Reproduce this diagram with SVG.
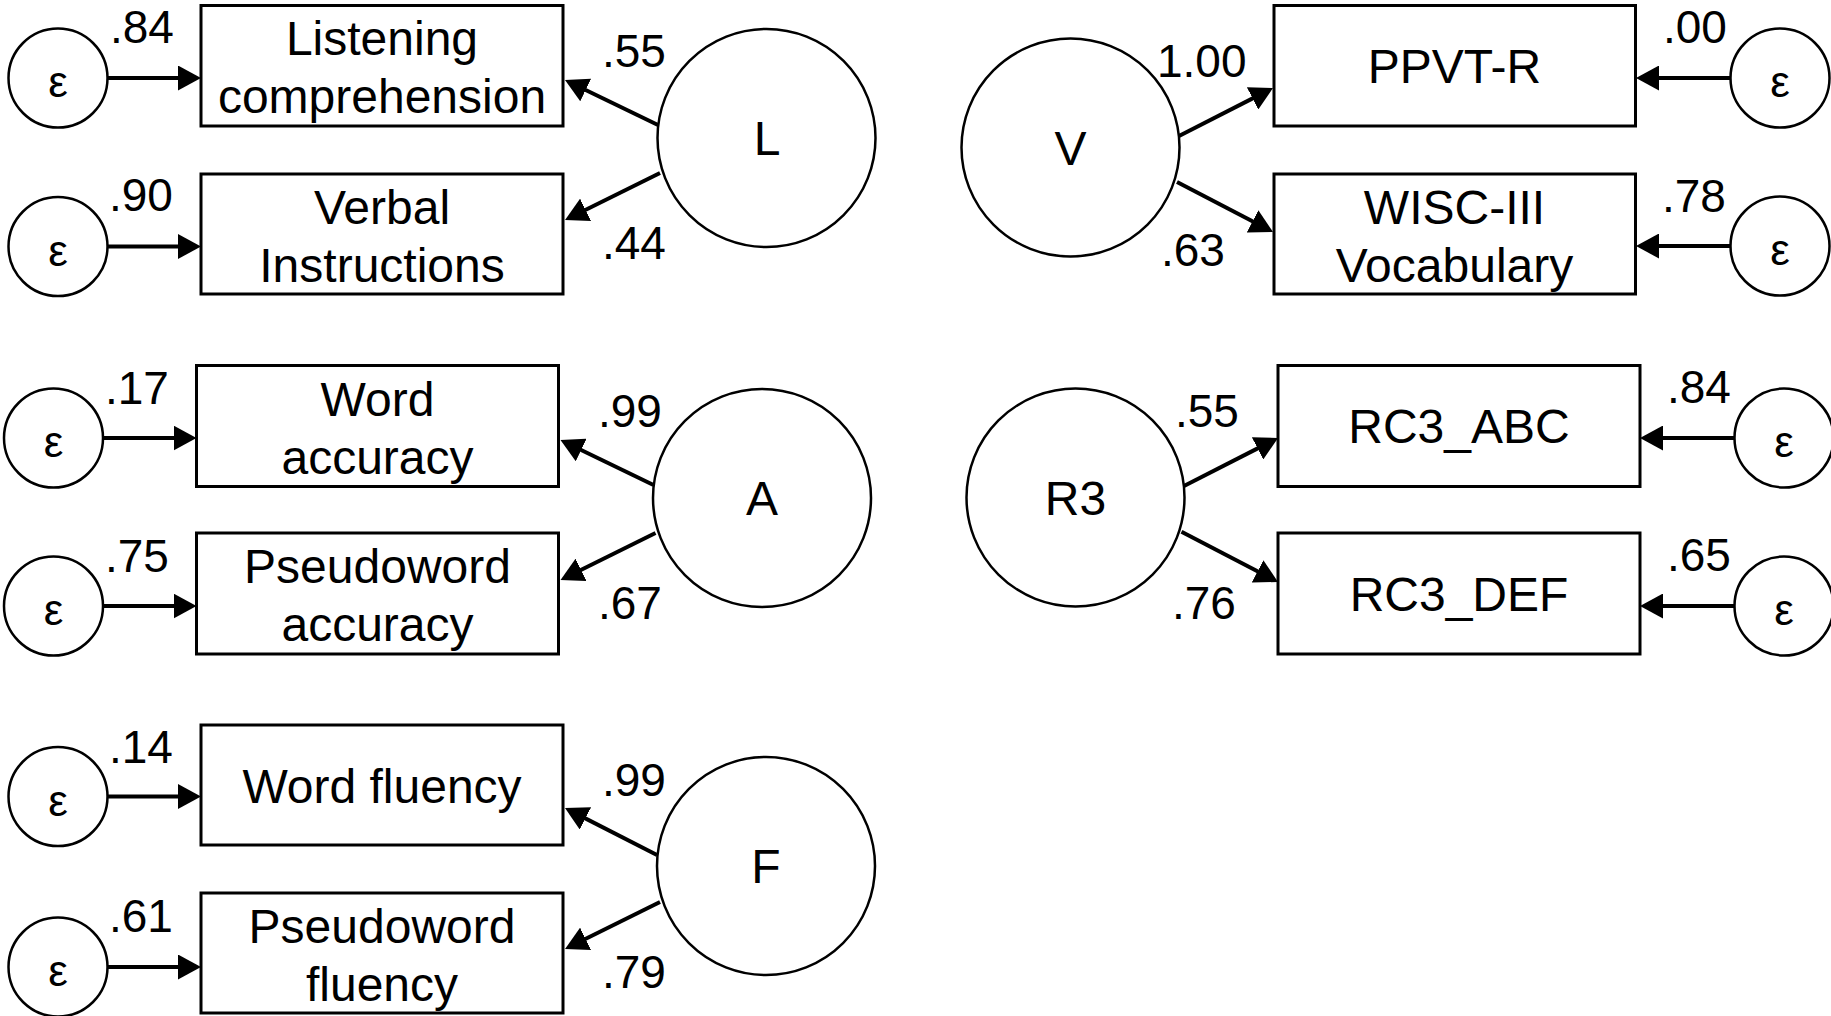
<svg xmlns="http://www.w3.org/2000/svg" width="1831" height="1016" viewBox="0 0 1831 1016">
<style>
.box{fill:#fff;stroke:#000;stroke-width:3}
.lat{fill:#fff;stroke:#000;stroke-width:2.5}
.err{fill:#fff;stroke:#000;stroke-width:2.5}
.t{font-family:"Liberation Sans",Arial,sans-serif;font-size:48px;fill:#000;text-anchor:middle}
.e{font-family:"Liberation Sans",Arial,sans-serif;font-size:44px;fill:#000;text-anchor:middle}
.lbl{font-family:"Liberation Sans",Arial,sans-serif;font-size:46px;fill:#000}
.c{fill:none;stroke:#000;stroke-width:4;marker-end:url(#ah)}
</style>
<defs>
<marker id="ah" markerUnits="userSpaceOnUse" viewBox="0 0 23 25" markerWidth="23" markerHeight="25" refX="15" refY="12.5" orient="auto">
<path d="M0,0 L23,12.5 L0,25 z" fill="#000"/>
</marker>
</defs>
<rect width="1831" height="1016" fill="#fff"/>

<g id="connectors">
<line class="c" x1="107.5" y1="78" x2="193" y2="78"/>
<line class="c" x1="107.5" y1="246.5" x2="193" y2="246.5"/>
<line class="c" x1="103" y1="438" x2="188.5" y2="438"/>
<line class="c" x1="103" y1="606" x2="188.5" y2="606"/>
<line class="c" x1="107.5" y1="796.5" x2="193" y2="796.5"/>
<line class="c" x1="107.5" y1="967" x2="193" y2="967"/>
<line class="c" x1="1730.5" y1="78" x2="1644" y2="78"/>
<line class="c" x1="1730.5" y1="246" x2="1644" y2="246"/>
<line class="c" x1="1734.5" y1="438" x2="1648" y2="438"/>
<line class="c" x1="1734.5" y1="606" x2="1648" y2="606"/>
<line class="c" x1="658" y1="125" x2="572.2" y2="83.5"/>
<line class="c" x1="660" y1="173" x2="572.2" y2="216.5"/>
<line class="c" x1="653.5" y1="485" x2="567.7" y2="443.5"/>
<line class="c" x1="655.5" y1="533" x2="567.7" y2="576.5"/>
<line class="c" x1="657" y1="855" x2="572.1" y2="811.6"/>
<line class="c" x1="660" y1="902" x2="572.2" y2="945.5"/>
<line class="c" x1="1178" y1="136.5" x2="1265.9" y2="91.6"/>
<line class="c" x1="1177" y1="182" x2="1265.9" y2="228.3"/>
<line class="c" x1="1183" y1="486.5" x2="1270.9" y2="441.6"/>
<line class="c" x1="1181.5" y1="531.7" x2="1270.9" y2="578.3"/>
</g>

<g id="labels">
<text class="lbl" x="110" y="43">.84</text>
<text class="lbl" x="109" y="211">.90</text>
<text class="lbl" x="602" y="66.5">.55</text>
<text class="lbl" x="602" y="259">.44</text>
<text class="lbl" x="105" y="404">.17</text>
<text class="lbl" x="105" y="572">.75</text>
<text class="lbl" x="598" y="426.5">.99</text>
<text class="lbl" x="598" y="619">.67</text>
<text class="lbl" x="109" y="762.5">.14</text>
<text class="lbl" x="109" y="932">.61</text>
<text class="lbl" x="602" y="795.5">.99</text>
<text class="lbl" x="602" y="988">.79</text>
<text class="lbl" x="1663" y="43">.00</text>
<text class="lbl" x="1662" y="211.5">.78</text>
<text class="lbl" x="1157" y="76.5">1.00</text>
<text class="lbl" x="1161" y="266">.63</text>
<text class="lbl" x="1175" y="426.5">.55</text>
<text class="lbl" x="1172" y="619">.76</text>
<text class="lbl" x="1667" y="403">.84</text>
<text class="lbl" x="1667" y="571">.65</text>
</g>

<g id="e1"><circle class="err" cx="58" cy="78" r="49.5"/><text class="e" x="58" y="97">ε</text></g>
<g id="e2"><circle class="err" cx="58" cy="246.5" r="49.5"/><text class="e" x="58" y="265.5">ε</text></g>
<g id="e3"><circle class="err" cx="53.5" cy="438" r="49.5"/><text class="e" x="53.5" y="457">ε</text></g>
<g id="e4"><circle class="err" cx="53.5" cy="606" r="49.5"/><text class="e" x="53.5" y="625">ε</text></g>
<g id="e5"><circle class="err" cx="58" cy="796.5" r="49.5"/><text class="e" x="58" y="815.5">ε</text></g>
<g id="e6"><circle class="err" cx="58" cy="967" r="49.5"/><text class="e" x="58" y="986">ε</text></g>
<g id="e7"><circle class="err" cx="1780" cy="78" r="49.5"/><text class="e" x="1780" y="97">ε</text></g>
<g id="e8"><circle class="err" cx="1780" cy="246" r="49.5"/><text class="e" x="1780" y="265">ε</text></g>
<g id="e9"><circle class="err" cx="1784" cy="438" r="49.5"/><text class="e" x="1784" y="457">ε</text></g>
<g id="e10"><circle class="err" cx="1784" cy="606" r="49.5"/><text class="e" x="1784" y="625">ε</text></g>

<g id="listening"><rect class="box" x="201" y="5.5" width="362" height="120.5"/><text class="t" x="382" y="55">Listening</text><text class="t" x="382" y="113">comprehension</text></g>
<g id="verbal"><rect class="box" x="201" y="174" width="362" height="120"/><text class="t" x="382" y="223.5">Verbal</text><text class="t" x="382" y="281.5">Instructions</text></g>
<g id="wordacc"><rect class="box" x="196.5" y="365.5" width="362" height="121"/><text class="t" x="377.5" y="415.5">Word</text><text class="t" x="377.5" y="473.5">accuracy</text></g>
<g id="pseudoacc"><rect class="box" x="196.5" y="533" width="362" height="121"/><text class="t" x="377.5" y="583">Pseudoword</text><text class="t" x="377.5" y="641">accuracy</text></g>
<g id="wordflu"><rect class="box" x="201" y="725" width="362" height="120"/><text class="t" x="382" y="802.5">Word fluency</text></g>
<g id="pseudoflu"><rect class="box" x="201" y="893" width="362" height="120"/><text class="t" x="382" y="942.5">Pseudoword</text><text class="t" x="382" y="1000.5">fluency</text></g>
<g id="ppvt"><rect class="box" x="1274" y="5.5" width="361.5" height="120.5"/><text class="t" x="1454.5" y="83">PPVT-R</text></g>
<g id="wisc"><rect class="box" x="1274" y="174" width="361.5" height="120"/><text class="t" x="1454.5" y="223.5">WISC-III</text><text class="t" x="1454.5" y="281.5">Vocabulary</text></g>
<g id="rc3abc"><rect class="box" x="1278" y="365.5" width="362" height="121"/><text class="t" x="1459" y="443">RC3_ABC</text></g>
<g id="rc3def"><rect class="box" x="1278" y="533" width="362" height="121"/><text class="t" x="1459" y="611">RC3_DEF</text></g>

<g id="L"><circle class="lat" cx="766.5" cy="138" r="109"/><text class="t" x="767" y="155">L</text></g>
<g id="A"><circle class="lat" cx="762" cy="498" r="109"/><text class="t" x="762" y="515">A</text></g>
<g id="F"><circle class="lat" cx="766" cy="866" r="109"/><text class="t" x="766" y="883">F</text></g>
<g id="V"><circle class="lat" cx="1070.5" cy="147.5" r="109"/><text class="t" x="1070.5" y="164.5">V</text></g>
<g id="R3"><circle class="lat" cx="1075.5" cy="497.5" r="109"/><text class="t" x="1075.5" y="514.5">R3</text></g>
</svg>
